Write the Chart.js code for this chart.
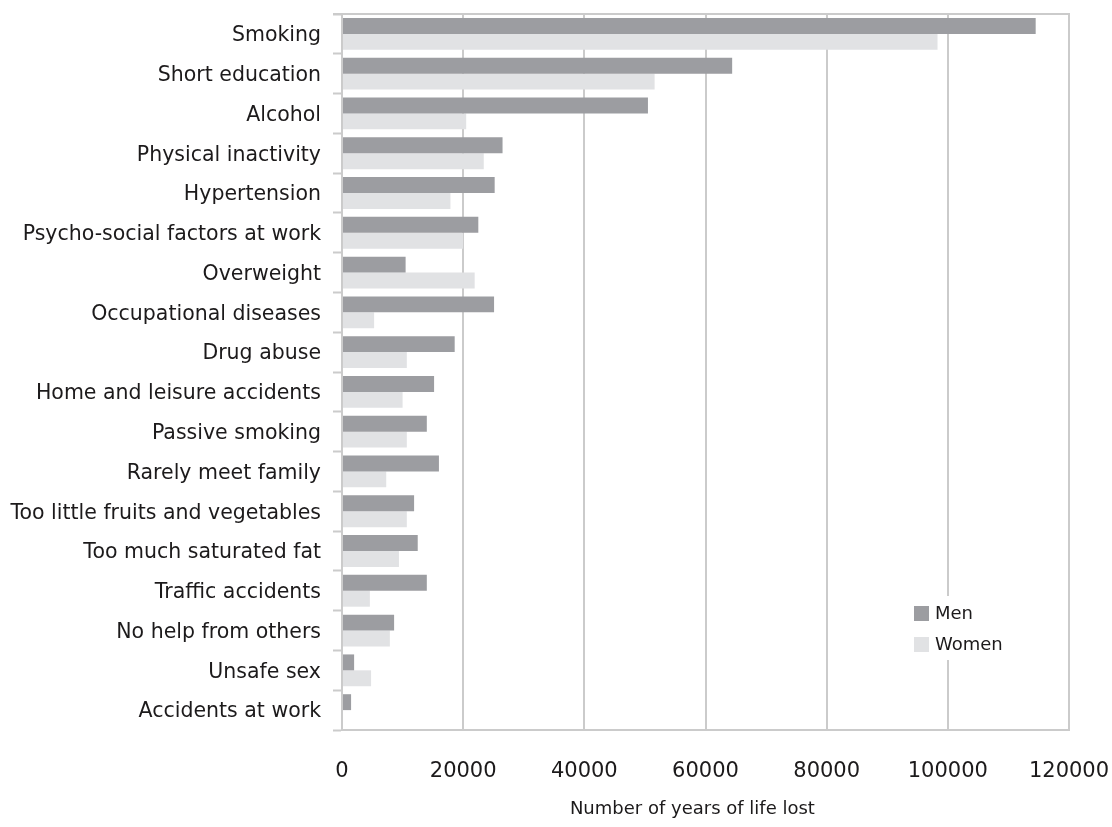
<!DOCTYPE html>
<html><head><meta charset="utf-8">
<script src="https://cdn.jsdelivr.net/npm/chart.js@4.4.1/dist/chart.umd.min.js"></script>
<style>html,body{margin:0;padding:0;background:#fff}#wrap{width:1112px;height:827px;position:relative}</style>
</head><body><div id="wrap"><canvas id="c" width="1112" height="827"></canvas></div>
<script>
const categories = ['Smoking','Short education','Alcohol','Physical inactivity','Hypertension','Psycho-social factors at work','Overweight','Occupational diseases','Drug abuse','Home and leisure accidents','Passive smoking','Rarely meet family','Too little fruits and vegetables','Too much saturated fat','Traffic accidents','No help from others','Unsafe sex','Accidents at work'];
const men = [114500,64400,50500,26500,25200,22500,10500,25100,18600,15200,14000,16000,11900,12500,14000,8600,2000,1500];
const women = [98300,51600,20500,23400,17900,20000,21900,5300,10700,10000,10700,7300,10700,9400,4600,7900,4800,0];
const seriesNames = ['Men','Women'];
const xTicks = [0,20000,40000,60000,80000,100000,120000];
const axisTitle = 'Number of years of life lost';

const FONT = "'DejaVu Sans', sans-serif";
const GRID = '#cbcbcb';
const TEXT = '#1c1a1b';
const colors = ['#9c9da1','#e1e2e4'];

const frame = {
  id:'frame',
  beforeDatasetsDraw(chart){
    const {ctx, chartArea:a} = chart;
    ctx.save();
    ctx.strokeStyle = GRID; ctx.lineWidth = 2;
    ctx.beginPath(); ctx.moveTo(a.left-9, a.top); ctx.lineTo(a.right+1, a.top); ctx.stroke();
    ctx.restore();
  },
  afterDraw(chart){
    const {ctx, chartArea:a} = chart;
    ctx.save();
    ctx.font = "18px " + FONT;
    ctx.fillStyle = TEXT;
    ctx.textAlign = 'center';
    ctx.textBaseline = 'alphabetic';
    ctx.fillText(axisTitle, a.left + (a.right - a.left) * 0.482, a.bottom + 84);
    ctx.restore();
  }
};
const innerLegend = {
  id:'innerLegend',
  afterDatasetsDraw(chart){
    const {ctx, chartArea:a} = chart;
    const x0 = a.right - 155, y0 = a.bottom - 124;
    ctx.save();
    ctx.fillStyle = '#fff';
    ctx.fillRect(x0-8, y0-10, 112, 64);
    ctx.font = "18px " + FONT;
    ctx.textBaseline = 'middle';
    chart.data.datasets.forEach((d,i)=>{
      const y = y0 + i*31;
      ctx.fillStyle = d.backgroundColor;
      ctx.fillRect(x0, y, 15, 15);
      ctx.fillStyle = TEXT;
      ctx.fillText(d.label, x0+21, y+8);
    });
    ctx.restore();
  }
};
const noPad = s => { s.paddingLeft = 0; s.paddingRight = 0; s.paddingTop = 0; s.paddingBottom = 0; };

new Chart(document.getElementById('c'), {
  type:'bar',
  data:{
    labels: categories,
    datasets:[
      {label: seriesNames[0], data: men, backgroundColor: colors[0]},
      {label: seriesNames[1], data: women, backgroundColor: colors[1]}
    ]
  },
  options:{
    indexAxis:'y',
    responsive:false,
    animation:false,
    devicePixelRatio:1,
    categoryPercentage:0.8,
    barPercentage:1.0,
    layout:{padding:{top:14,right:43,left:0,bottom:0}},
    plugins:{legend:{display:false},tooltip:{enabled:false}},
    scales:{
      x:{
        min:0,max:120000,
        afterBuildTicks:s=>{ s.ticks = xTicks.map(v=>({value:v})); },
        ticks:{font:{family:FONT,size:21},color:TEXT,padding:29,callback:v=>String(v)},
        grid:{color:GRID,lineWidth:2,drawTicks:false},
        border:{color:GRID,width:2},
        title:{display:false,text:axisTitle},
        afterFit:s=>{ s.height = 97; noPad(s); }
      },
      y:{
        grid:{offset:true,drawOnChartArea:false,tickLength:9,tickColor:GRID,tickWidth:2},
        border:{color:GRID,width:2},
        ticks:{font:{family:FONT,size:20.5},color:TEXT,padding:12,labelOffset:2},
        afterFit:s=>{ s.width = 342; noPad(s); }
      }
    }
  },
  plugins:[frame,innerLegend]
});
</script></body></html>
